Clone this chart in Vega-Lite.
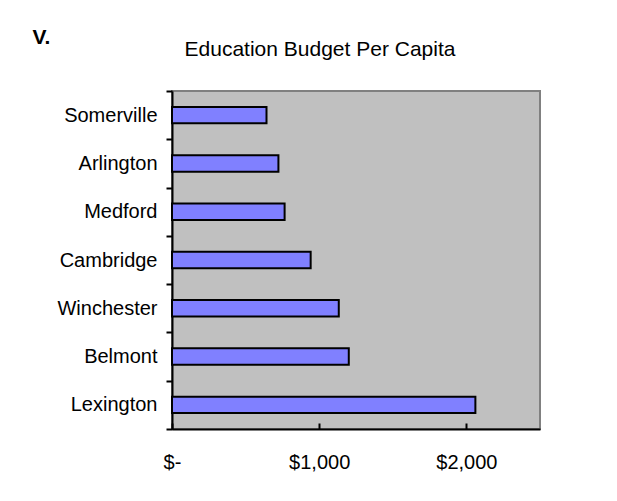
{
  "$schema": "https://vega.github.io/schema/vega-lite/v6.json",
  "autosize": {"type": "none"},
  "padding": {"left": 172, "top": 91, "right": 77, "bottom": 72},
  "width": 368,
  "height": 338,
  "background": "white",
  "title": {
    "text": "Education Budget Per Capita",
    "font": "Liberation Sans",
    "fontSize": 21,
    "fontWeight": "normal",
    "color": "black",
    "anchor": "middle",
    "frame": "group",
    "baseline": "alphabetic",
    "offset": 33,
    "dy": 84,
    "dx": -36
  },
  "config": {
    "font": "Liberation Sans",
    "view": {"fill": "#C0C0C0", "stroke": "#808080", "strokeWidth": 2}
  },
  "data": {
    "values": [
      {"town": "Somerville", "budget": 642},
      {"town": "Arlington", "budget": 723},
      {"town": "Medford", "budget": 765},
      {"town": "Cambridge", "budget": 942},
      {"town": "Winchester", "budget": 1133},
      {"town": "Belmont", "budget": 1201},
      {"town": "Lexington", "budget": 2061}
    ]
  },
  "mark": {"type": "bar", "fill": "#8080FF", "stroke": "black", "strokeWidth": 2, "height": {"band": 0.34}},
  "encoding": {
    "y": {
      "field": "town",
      "type": "nominal",
      "sort": null,
      "scale": {"paddingInner": 0, "paddingOuter": 0},
      "axis": {
        "title": "V.",
        "titleAngle": 0,
        "titleAlign": "left",
        "titleBaseline": "alphabetic",
        "titleX": -140,
        "titleY": -48,
        "titleFont": "Liberation Sans",
        "titleFontSize": 21,
        "titleFontWeight": "bold",
        "titleColor": "black",
        "labelFont": "Liberation Sans",
        "labelFontSize": 20,
        "labelColor": "black",
        "labelPadding": 9,
        "tickBand": "extent",
        "tickSize": 6,
        "tickWidth": 2,
        "tickColor": "black",
        "domainColor": "black",
        "domainWidth": 2,
        "grid": false
      }
    },
    "x": {
      "field": "budget",
      "type": "quantitative",
      "scale": {"domain": [0, 2500], "nice": false},
      "axis": {
        "title": null,
        "values": [0, 1000, 2000],
        "labelExpr": "datum.value == 0 ? '$-' : format(datum.value, '$,')",
        "labelFont": "Liberation Sans",
        "labelFontSize": 20,
        "labelColor": "black",
        "labelBaseline": "alphabetic",
        "labelPadding": 45,
        "tickSize": -6,
        "tickWidth": 2,
        "tickColor": "black",
        "domainColor": "black",
        "domainWidth": 2,
        "grid": false,
        "labelFlush": false
      }
    }
  }
}
